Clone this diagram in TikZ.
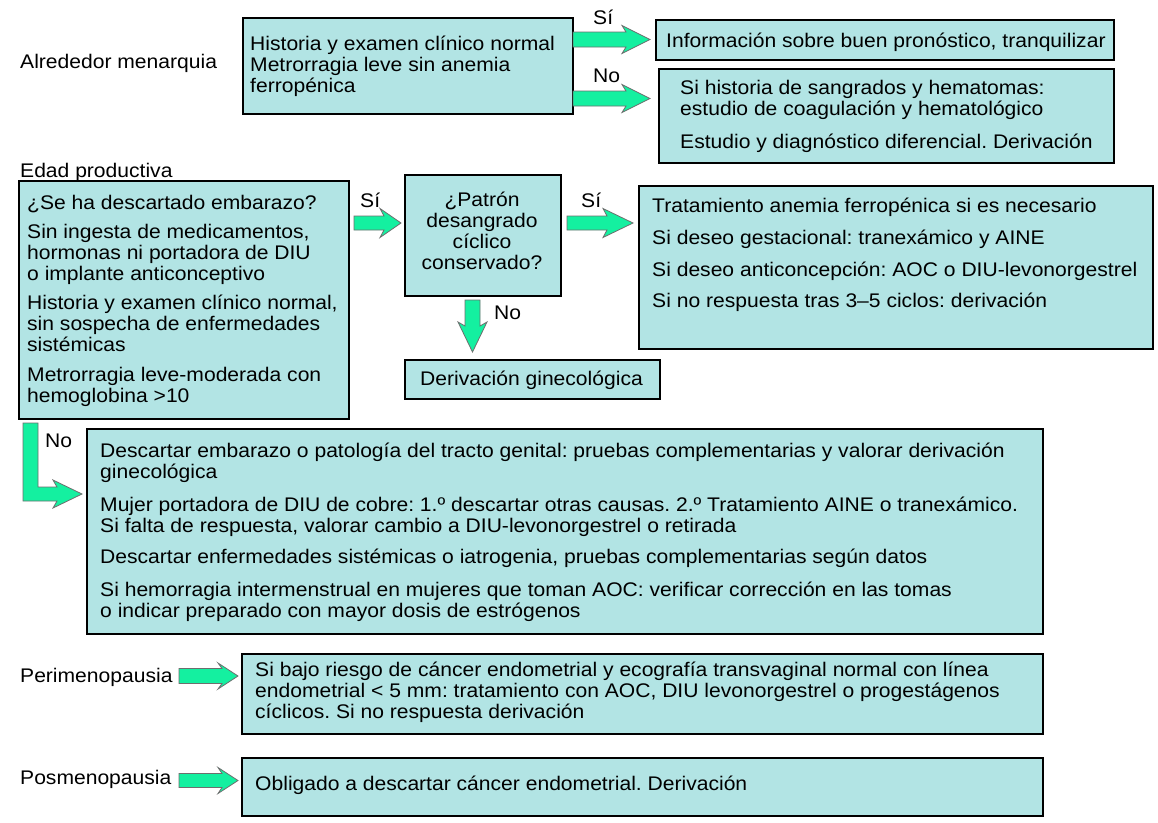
\documentclass[tikz,border=0pt]{standalone}
\usepackage{fontspec}
\setmainfont{Liberation Sans}[FakeStretch=1.07]
\usetikzlibrary{calc}
\frenchspacing
\definecolor{boxfill}{RGB}{178,228,228}
\definecolor{arrfill}{RGB}{20,240,160}
\definecolor{arrline}{RGB}{110,110,110}
\newcommand{\fs}{\fontsize{19.7}{21}\selectfont\frenchspacing}
\newcommand{\fst}{\rule{0pt}{16pt}}
\newcommand{\rarr}[5]{% coord, length, head length, shaft half, head half
  \begin{scope}[shift={(#1)}]
    \draw[fat] (0,-#4) -- (#2-#3+4,-#4) -- (#2-#3,-#5) -- (#2,0) -- (#2-#3,#5) -- (#2-#3+4,#4) -- (0,#4) -- cycle;
  \end{scope}}
\tikzset{
  box/.style={draw=black, line width=1.6pt, fill=boxfill, anchor=north west, inner sep=0pt},
  txt/.style={font=\fs, align=left, anchor=north west, inner sep=0pt},
  lbl/.style={font=\fs, anchor=base west, inner sep=0pt},
  fat/.style={draw=arrline, line width=0.8pt, fill=arrfill, line join=miter},
}
\begin{document}
\begin{tikzpicture}[x=1pt,y=-1pt]
\useasboundingbox[fill=white] (0,0) rectangle (1158,822);

% section labels
\node[lbl] (lmen) at (20,68) {Alrededor menarquia};
\node[lbl] (lprod) at (20,177) {Edad productiva};
\node[lbl] (lperi) at (20,682) {Perimenopausia};
\node[lbl] (lpos) at (20,784) {Posmenopausia};

% boxes
\node[box, minimum width=330pt, minimum height=96pt] (b1) at (242,17) {};
\node[box, minimum width=458pt, minimum height=40pt] (bsi) at (655,19) {};
\node[box, minimum width=455pt, minimum height=94pt] (bno) at (658,68) {};
\node[box, minimum width=330pt, minimum height=238pt] (bl) at (18,180) {};
\node[box, minimum width=156pt, minimum height=121pt] (bp) at (404,174) {};
\node[box, minimum width=514pt, minimum height=163pt] (bt) at (638,185) {};
\node[box, minimum width=255pt, minimum height=39pt] (bd) at (404,359) {};
\node[box, minimum width=956pt, minimum height=205pt] (bbig) at (86,428) {};
\node[box, minimum width=801pt, minimum height=80pt] (bperi) at (241,653) {};
\node[box, minimum width=801pt, minimum height=58pt] (bpos) at (241,757) {};

% texts
\node[txt] (t1) at (250,50-16) {\fst Historia y examen clínico normal\\Metrorragia leve sin anemia\\ferropénica};
\node[txt] (tsi) at (666,47-16) {\fst Información sobre buen pronóstico, tranquilizar};
\node[txt] (tno) at (680,94-16) {\fst Si historia de sangrados y hematomas:\\estudio de coagulación y hematológico\\[12pt]Estudio y diagnóstico diferencial. Derivación};
\node[txt] (tl) at (27,209-16) {\fst ¿Se ha descartado embarazo?\\[8pt]Sin ingesta de medicamentos,\\hormonas ni portadora de DIU\\o implante anticonceptivo\\[8pt]Historia y examen clínico normal,\\sin sospecha de enfermedades\\sistémicas\\[9pt]Metrorragia leve-moderada con\\hemoglobina >10};
\node[txt, align=center, anchor=north] (tp) at (482,206-16) {\fst ¿Patrón\\desangrado\\cíclico\\conservado?};
\node[txt] (tt) at (652,212-16) {\fst Tratamiento anemia ferropénica si es necesario\\[11pt]Si deseo gestacional: tranexámico y AINE\\[11pt]Si deseo anticoncepción: AOC o DIU-levonorgestrel\\[10pt]Si no respuesta tras 3–5 ciclos: derivación};
\node[txt] (td) at (420,385-16) {\fst Derivación ginecológica};
\node[txt] (tbig) at (100,457-16) {\fst Descartar embarazo o patología del tracto genital: pruebas complementarias y valorar derivación\\ginecológica\\[12pt]Mujer portadora de DIU de cobre: 1.º descartar otras causas. 2.º Tratamiento AINE o tranexámico.\\Si falta de respuesta, valorar cambio a DIU-levonorgestrel o retirada\\[10pt]Descartar enfermedades sistémicas o iatrogenia, pruebas complementarias según datos\\[12pt]Si hemorragia intermenstrual en mujeres que toman AOC: verificar corrección en las tomas\\o indicar preparado con mayor dosis de estrógenos};
\node[txt] (tperi) at (255,676-16) {\fst Si bajo riesgo de cáncer endometrial y ecografía transvaginal normal con línea\\endometrial < 5 mm: tratamiento con AOC, DIU levonorgestrel o progestágenos\\cíclicos. Si no respuesta derivación};
\node[txt] (tpos) at (255,790-16) {\fst Obligado a descartar cáncer endometrial. Derivación};

% arrow start points
\coordinate (a1) at (573,39.5);
\coordinate (a2) at (573,98.5);
\coordinate (a3) at (354,223);
\coordinate (a4) at (567,223);
\coordinate (a5) at (179,676);
\coordinate (a6) at (179,780.5);
\coordinate (a7) at (472.5,300);
\coordinate (a8) at (23,423);

\rarr{a1}{77}{28}{7.5}{14}
\rarr{a2}{77}{28}{7.5}{14}
\rarr{a3}{47}{21}{7}{14.5}
\rarr{a4}{66}{30}{7}{14.5}
\rarr{a5}{59}{20}{7.5}{13}
\rarr{a6}{59}{20}{7}{13}
\begin{scope}[shift={(a7)}]
  \draw[fat] (-7.5,0) -- (-7.5,26) -- (-14.5,22) -- (0,52) -- (14.5,22) -- (7.5,26) -- (7.5,0) -- cycle;
\end{scope}
\begin{scope}[shift={(a8)}]
  \draw[fat] (0,0) -- (0,78) -- (34,78) -- (30,85) -- (59,71) -- (30,57) -- (34,64) -- (15,64) -- (15,0) -- cycle;
\end{scope}

% arrow labels
\node[lbl] (s1) at (593,24) {Sí};
\node[lbl] (n1) at (593,82) {No};
\node[lbl] (s2) at (360,207) {Sí};
\node[lbl] (s3) at (581,207) {Sí};
\node[lbl] (n2) at (494,319) {No};
\node[lbl] (n3) at (45,447) {No};
\end{tikzpicture}
\end{document}
